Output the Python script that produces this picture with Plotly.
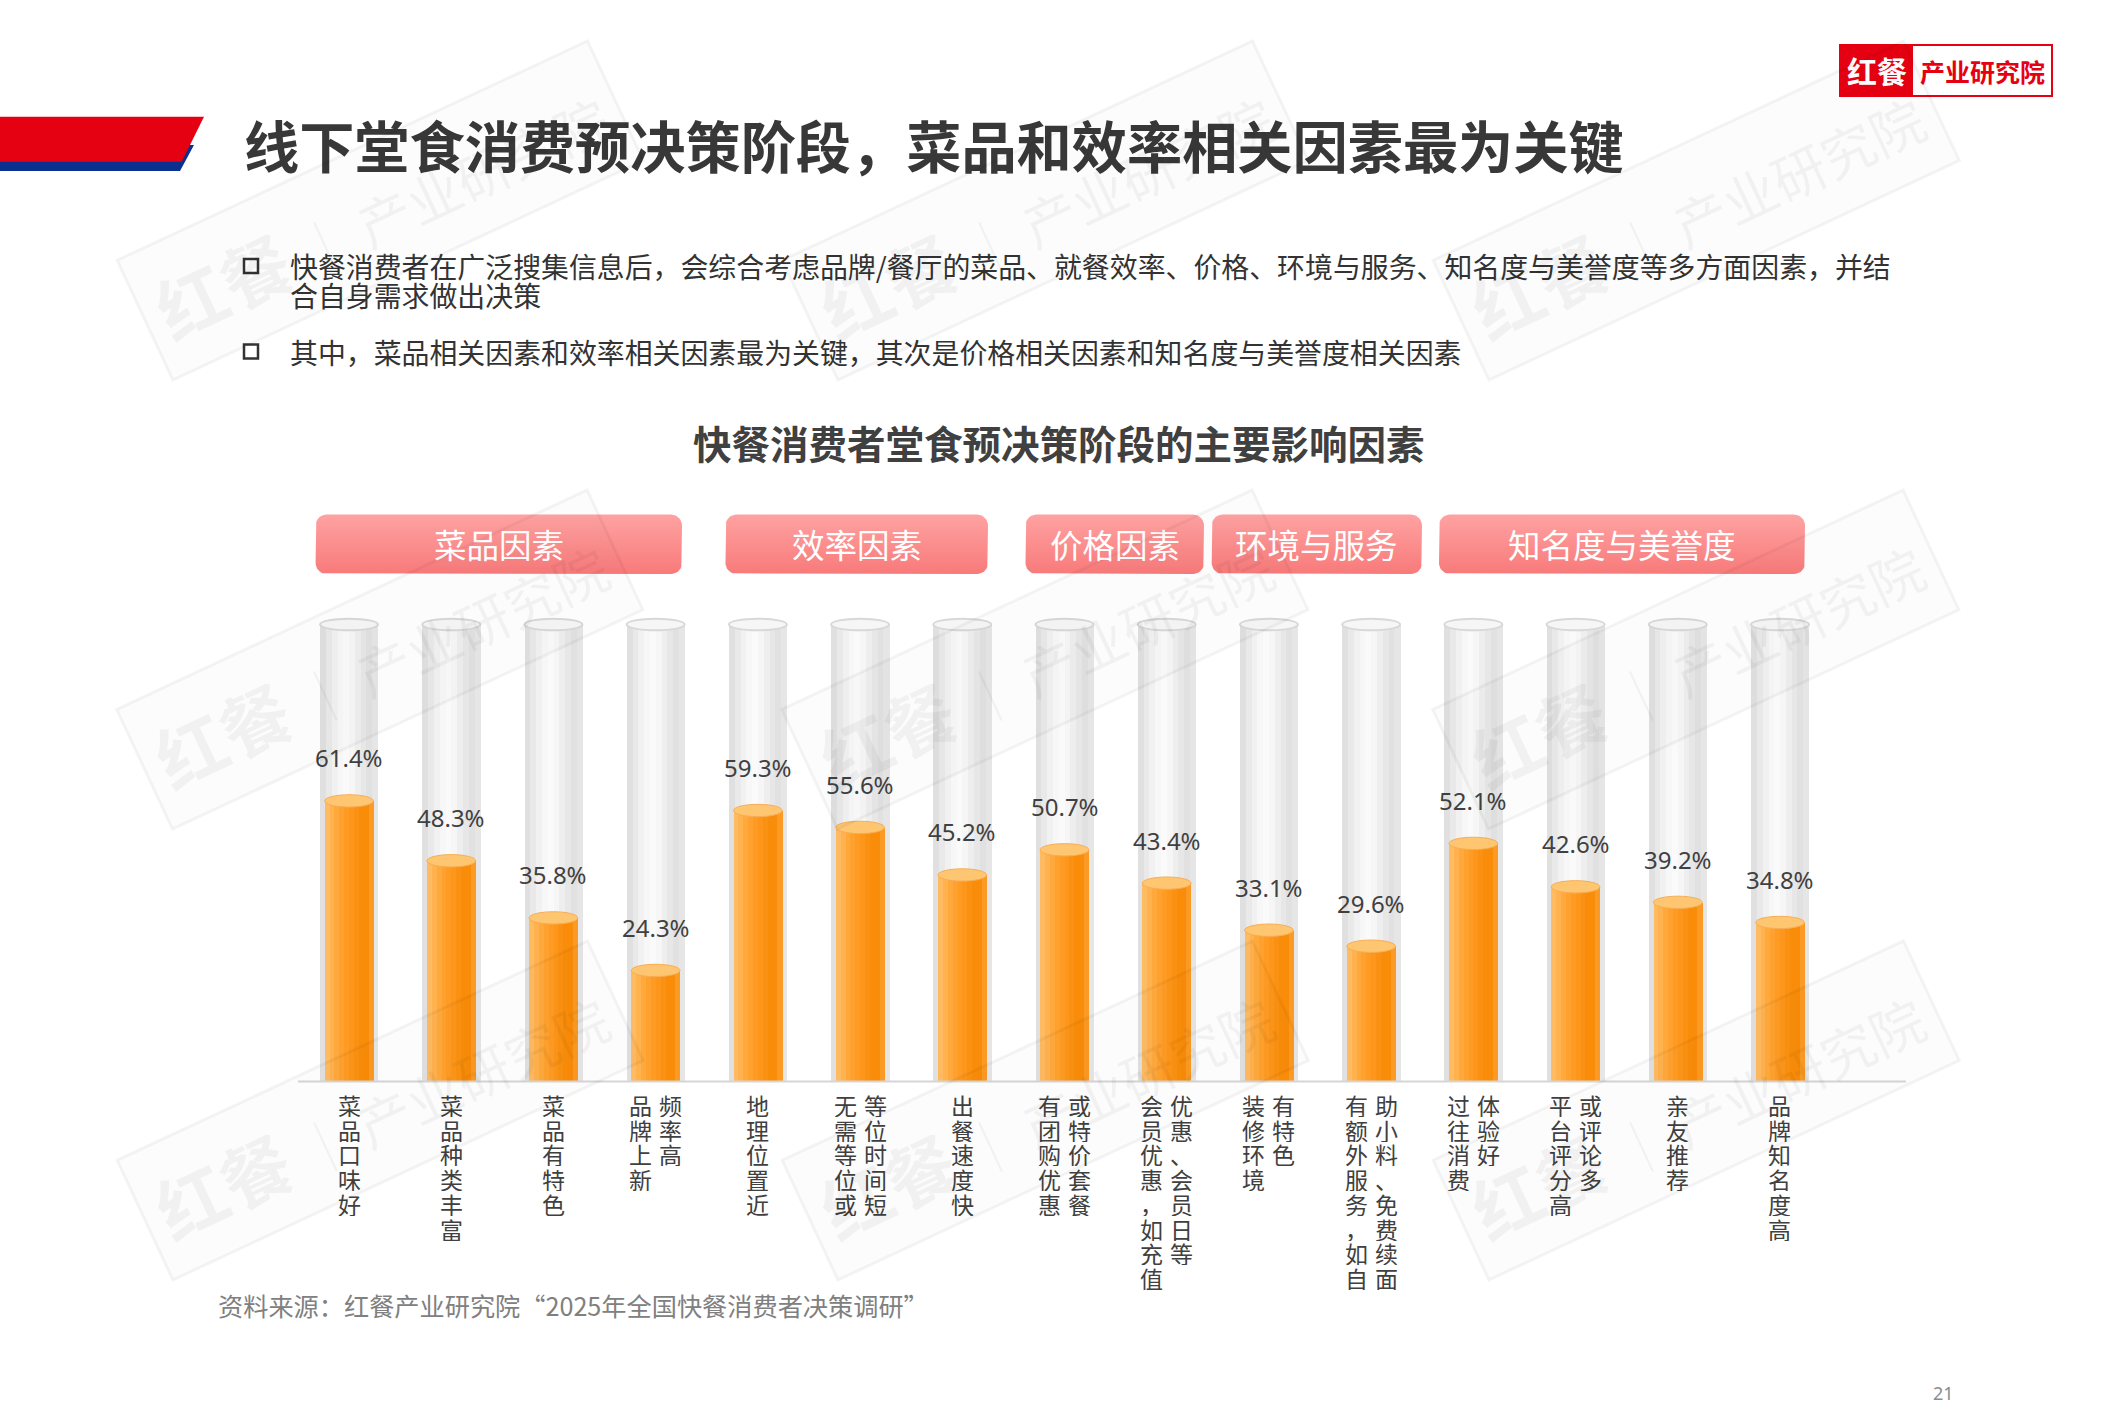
import numpy as np
import plotly.graph_objects as go

W, H = 2126, 1418

# ---------------- data ----------------
categories = ["菜品口味好", "菜品种类丰富", "菜品有特色", "品牌上新频率高", "地理位置近",
              "无需等位或等位时间短", "出餐速度快", "有团购优惠或特价套餐",
              "会员优惠，如充值优惠、会员日等", "装修环境有特色",
              "有额外服务，如自助小料、免费续面", "过往消费体验好", "平台评分高或评论多",
              "亲友推荐", "品牌知名度高"]
label_columns = [["菜品口味好"], ["菜品种类丰富"], ["菜品有特色"], ["品牌上新", "频率高"],
                 ["地理位置近"], ["无需等位或", "等位时间短"], ["出餐速度快"],
                 ["有团购优惠", "或特价套餐"], ["会员优惠，如充值", "优惠、会员日等"],
                 ["装修环境", "有特色"], ["有额外服务，如自", "助小料、免费续面"],
                 ["过往消费", "体验好"], ["平台评分高", "或评论多"], ["亲友推荐"], ["品牌知名度高"]]
values = [61.4, 48.3, 35.8, 24.3, 59.3, 55.6, 45.2, 50.7, 43.4, 33.1, 29.6, 52.1, 42.6, 39.2, 34.8]
group_names = ["菜品因素", "效率因素", "价格因素", "环境与服务", "知名度与美誉度"]

title_text = "线下堂食消费预决策阶段，菜品和效率相关因素最为关键"
bullet1_lines = ["快餐消费者在广泛搜集信息后，会综合考虑品牌/餐厅的菜品、就餐效率、价格、环境与服务、知名度与美誉度等多方面因素，并结",
                 "合自身需求做出决策"]
bullet2_line = "其中，菜品相关因素和效率相关因素最为关键，其次是价格相关因素和知名度与美誉度相关因素"
chart_title = "快餐消费者堂食预决策阶段的主要影响因素"
source_text = "资料来源：红餐产业研究院“2025年全国快餐消费者决策调研”"
page_no = "21"

# ---------------- layout constants (pixels) ----------------
CJK = "Noto Sans CJK SC"
TXT = "#404040"
x_left_px, x_right_px = 297.9, 1831.1
base_px, px_per_unit = 1081.5, 4.57
y_max = 105
group_box_px = [(315.6, 682.0), (725.5, 988.0), (1025.5, 1204.0), (1211.7, 1422.0), (1439.0, 1805.0)]
box_y0, box_y1 = 514.5, 574.0
col_px = 30.0
char_step = 24.7


def X(p):
    return p / W


def Y(p):
    return 1 - p / H


n = len(values)
xs = list(range(n))
tube_w = 0.567
bar_w = 0.477
tube_colors = ["#e0e0e0", "#e9e9e9", "#f1f1f1", "#f7f7f7", "#fafafa",
               "#f6f6f6", "#eeeeee", "#e7e7e7", "#e1e1e1", "#e6e6e6"]
orange_colors = ["#ffbb62", "#ffb24d", "#ffa93c", "#ffa12e", "#ff9b23",
                 "#fd961a", "#fb9112", "#f98d0a", "#f98c09", "#fb9a24"]

fig = go.Figure()

# glass tubes (background 100 %)
sw = tube_w / len(tube_colors)
for k, c in enumerate(tube_colors):
    fig.add_trace(go.Bar(x=xs, y=[100] * n, width=sw * 1.06, offset=-tube_w / 2 + k * sw,
                         marker=dict(color=c, line=dict(width=0)), hoverinfo="skip",
                         showlegend=False))
# orange bars
sw = bar_w / len(orange_colors)
for k, c in enumerate(orange_colors):
    fig.add_trace(go.Bar(x=xs, y=values, width=sw * 1.06, offset=-bar_w / 2 + k * sw,
                         marker=dict(color=c, line=dict(width=0)), hoverinfo="skip",
                         showlegend=False))

shapes = []
annotations = []


def note(x, y, text, size, color, family=CJK, xanchor="center", yanchor="middle", **kw):
    d = dict(x=x, y=y, xref="paper", yref="paper", text=text, showarrow=False,
             xanchor=xanchor, yanchor=yanchor, font=dict(family=family, size=size, color=color))
    d.update(kw)
    annotations.append(d)


# tube top rings and bar caps, value labels
for i, v in enumerate(values):
    shapes.append(dict(type="circle", xref="x", yref="y", x0=i - tube_w / 2, x1=i + tube_w / 2,
                       y0=100 - 1.28, y1=100 + 1.28, fillcolor="#f6f6f6",
                       line=dict(color="#d8d8d8", width=2), layer="above"))
    shapes.append(dict(type="circle", xref="x", yref="y", x0=i - bar_w / 2, x1=i + bar_w / 2,
                       y0=v - 1.35, y1=v + 1.35, fillcolor="#ffc672",
                       line=dict(color="#f7ad55", width=1), layer="above"))
    annotations.append(dict(x=i, y=v, xref="x", yref="y", yshift=43, text=f"{v}%",
                            xanchor="center", yanchor="middle", showarrow=False,
                            font=dict(family="Noto Sans", size=24, color=TXT)))

# vertical category labels (one text per character, stacked downwards)
for i, cols in enumerate(label_columns):
    nc = len(cols)
    for c, col in enumerate(cols):
        xshift = (c - (nc - 1) / 2) * col_px
        for k, ch in enumerate(col):
            annotations.append(dict(x=i, xref="x", xshift=xshift, y=Y(1105 + char_step * k),
                                    yref="paper", text=ch, showarrow=False, xanchor="center",
                                    yanchor="middle", borderpad=0, height=24,
                                    font=dict(family=CJK, size=23, color=TXT)))


# group header boxes with vertical gradient
def rrect(x0, y0, x1, y1, r, m=10):
    px, py = [], []
    for cx, cy, a0, a1 in [(x1 - r, y0 + r, -90, 0), (x1 - r, y1 - r, 0, 90),
                           (x0 + r, y1 - r, 90, 180), (x0 + r, y0 + r, 180, 270)]:
        for a in np.linspace(np.radians(a0), np.radians(a1), m):
            px.append(cx + r * np.cos(a))
            py.append(cy + r * np.sin(a))
    px.append(px[0])
    py.append(py[0])
    return px, py


for name, (bx0, bx1) in zip(group_names, group_box_px):
    rx, ry = rrect(bx0, box_y0, bx1, box_y1, 11)
    fig.add_trace(go.Scatter(x=rx, y=ry, xaxis="x2", yaxis="y2", mode="lines", fill="toself",
                             line=dict(width=0, color="#fa8a8a"),
                             fillgradient=dict(type="vertical",
                                               colorscale=[[0, "#ffa2a2"], [1, "#f87a7a"]],
                                               start=box_y0, stop=box_y1),
                             hoverinfo="skip", showlegend=False))
    note(X((bx0 + bx1) / 2), Y((box_y0 + box_y1) / 2 - 1), name, 32.5, "white")

# baseline
shapes.append(dict(type="line", xref="x2", yref="y2", x0=298, x1=1906, y0=base_px, y1=base_px,
                   line=dict(color="#d6d6d6", width=2), layer="above"))

# header banner (red + blue)
shapes.append(dict(type="path", xref="x2", yref="y2",
                   path="M 0 145 L 194 145 L 180 171 L 0 171 Z",
                   fillcolor="#0b3190", line=dict(width=0)))
shapes.append(dict(type="path", xref="x2", yref="y2",
                   path="M 0 116.7 L 204 116.7 L 181.7 161.7 L 0 161.7 Z",
                   fillcolor="#e50012", line=dict(width=0)))

# logo
shapes.append(dict(type="rect", xref="x2", yref="y2", x0=1840, x1=2052, y0=45, y1=96,
                   fillcolor="white", line=dict(color="#e50012", width=2)))
shapes.append(dict(type="rect", xref="x2", yref="y2", x0=1840, x1=1913, y0=45, y1=96,
                   fillcolor="#e50012", line=dict(width=0)))
note(X(1876.5), Y(70), "<b>红餐</b>", 30, "white")
note(X(1982), Y(71), "<b>产业研究院</b>", 25, "#e50012")

# title
note(X(241.5), Y(144), f"<b>{title_text}</b>", 55.2, "#383838", xanchor="left")

# bullets
for yc in (266, 351.5):
    shapes.append(dict(type="rect", xref="x2", yref="y2", x0=244, x1=258, y0=yc - 7, y1=yc + 7,
                       fillcolor="white", line=dict(color="#333333", width=2.5)))
for txt, yc in [(bullet1_lines[0], 266), (bullet1_lines[1], 295), (bullet2_line, 351.5)]:
    note(X(288), Y(yc), txt, 27.9, "#333333", xanchor="left")

# chart title
note(X(1058.5), Y(442), f"<b>{chart_title}</b>", 38.5, TXT)

# source and page number
note(X(216), Y(1305), source_text, 25.2, "#808080", xanchor="left")
note(X(1943), Y(1393), page_no, 18, "#8c8c8c", family="Noto Sans")

# watermarks
for wx in (380, 1045, 1696):
    for wy in (210, 660, 1110):
        note(X(wx), Y(wy),
             "<span style='font-size:70px'><b>红餐</b></span> │ 产业研究院",
             54, "rgba(0,0,0,0.045)", textangle=-25,
             bordercolor="rgba(0,0,0,0.045)", borderwidth=3, borderpad=14,
             bgcolor="rgba(0,0,0,0.012)")

y_top_px = base_px - y_max * px_per_unit
fig.update_layout(
    width=W, height=H, margin=dict(l=0, r=0, t=0, b=0),
    paper_bgcolor="white", plot_bgcolor="rgba(0,0,0,0)",
    barmode="overlay", bargap=0, showlegend=False,
    xaxis=dict(domain=[X(x_left_px), X(x_right_px)], range=[-0.5, n - 0.5],
               showline=False, showgrid=False, zeroline=False, showticklabels=False,
               ticks="", fixedrange=True),
    yaxis=dict(domain=[Y(base_px), Y(y_top_px)], range=[0, y_max],
               visible=False, fixedrange=True),
    xaxis2=dict(domain=[0, 1], range=[0, W], visible=False, anchor="y2", fixedrange=True),
    yaxis2=dict(domain=[0, 1], range=[H, 0], visible=False, anchor="x2", fixedrange=True),
    shapes=shapes, annotations=annotations,
)

fig.write_html("out.html", config={"displayModeBar": False},
               post_script="document.body.style.margin='0';")
